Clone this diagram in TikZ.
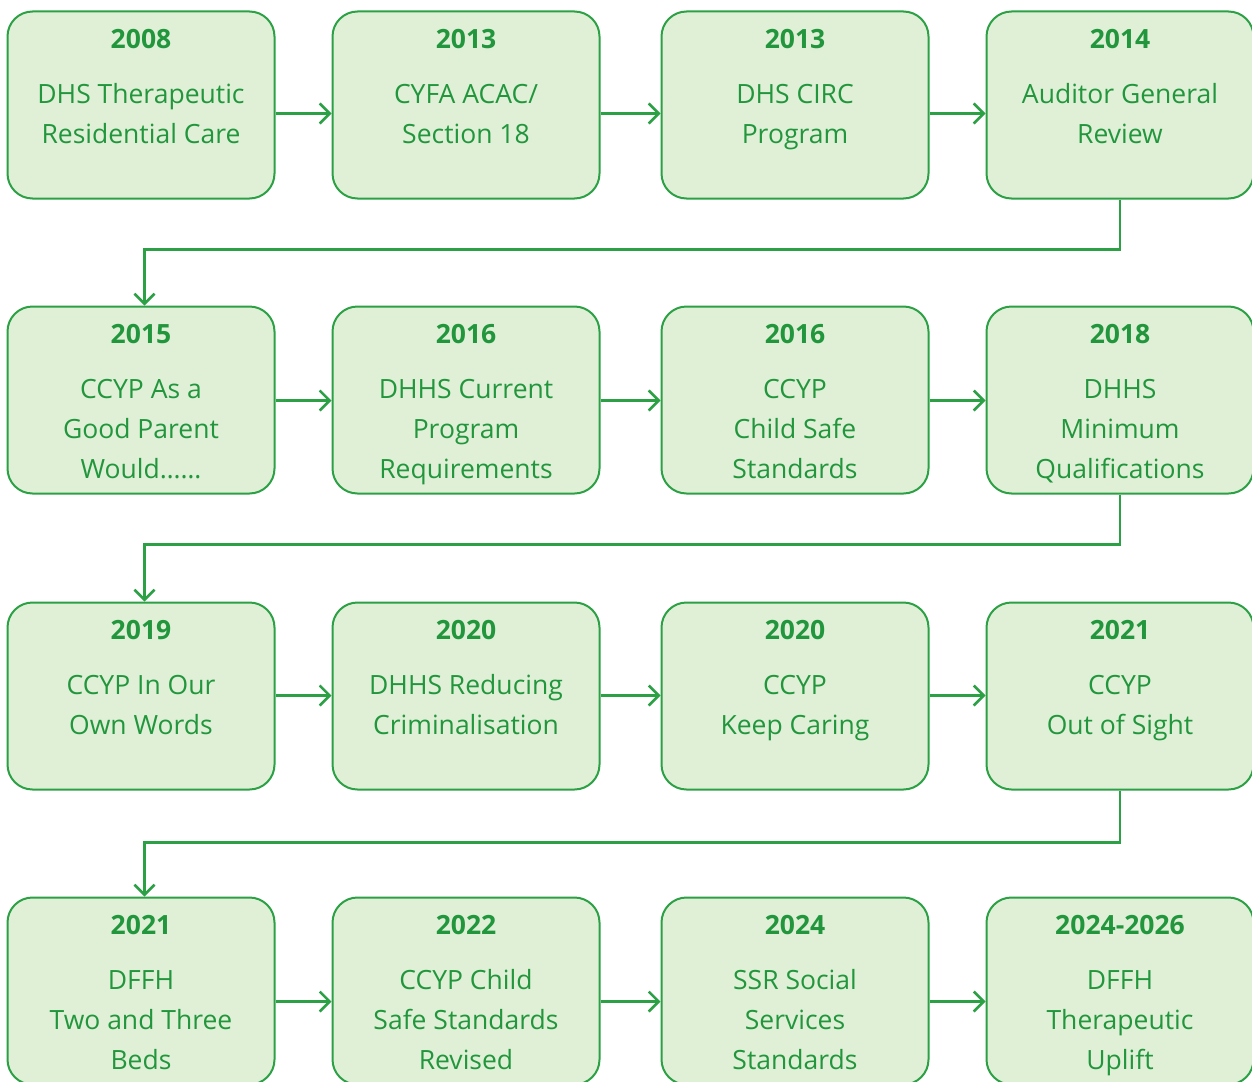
\documentclass[tikz,border=0pt]{standalone}
\usepackage{fontspec}
\setmainfont{Open Sans}
\usetikzlibrary{arrows.meta, positioning}
\usepackage{xcolor}
\definecolor{boxfill}{RGB}{223, 240, 215}
\definecolor{boxline}{RGB}{44, 160, 68}
\definecolor{boxtext}{RGB}{34, 150, 60}
\newcommand{\yr}[1]{\rule{0pt}{22pt}\textbf{#1}\\[15pt]}

\begin{document}
\begin{tikzpicture}[
    x=1pt, y=-1pt,
    % box style
    stepbox/.style={
        rectangle, rounded corners=25pt, draw=boxline, fill=boxfill, line width=2pt,
        minimum width=267pt, minimum height=187pt, anchor=north west, inner sep=0pt
    },
    % text inside each box
    steptext/.style={
        anchor=north, align=center, inner sep=0pt, text=boxtext,
        font=\fontsize{26.5}{40}\selectfont
    },
    % arrow style
    arrow/.style={-{Straight Barb[length=10pt, width=20pt]}, line width=2.5pt, boxline},
]
\useasboundingbox (0.5,0.5) rectangle (1252.5,1081.5);

% ==================== row 1 ====================
\node[stepbox] (b1) at (7,11) {};
\node[stepbox] (b2) at (332,11) {};
\node[stepbox] (b3) at (661,11) {};
\node[stepbox] (b4) at (986,11) {};
\node[steptext, below=15.5pt of b1.north] (t1) {\yr{2008}DHS Therapeutic\\Residential Care};
\node[steptext, below=15.5pt of b2.north] (t2) {\yr{2013}CYFA ACAC/\\Section 18};
\node[steptext, below=15.5pt of b3.north] (t3) {\yr{2013}DHS CIRC\\Program};
\node[steptext, below=15.5pt of b4.north] (t4) {\yr{2014}Auditor General\\Review};

% ==================== row 2 ====================
\node[stepbox] (b5) at (7,306) {};
\node[stepbox] (b6) at (332,306) {};
\node[stepbox] (b7) at (661,306) {};
\node[stepbox] (b8) at (986,306) {};
\node[steptext, below=15.5pt of b5.north] (t5) {\yr{2015}CCYP As a\\Good Parent\\Would……};
\node[steptext, below=15.5pt of b6.north] (t6) {\yr{2016}DHHS Current\\Program\\Requirements};
\node[steptext, below=15.5pt of b7.north] (t7) {\yr{2016}CCYP\\Child Safe\\Standards};
\node[steptext, below=15.5pt of b8.north] (t8) {\yr{2018}DHHS\\Minimum\\Qualifications};

% ==================== row 3 ====================
\node[stepbox] (b9) at (7,602) {};
\node[stepbox] (b10) at (332,602) {};
\node[stepbox] (b11) at (661,602) {};
\node[stepbox] (b12) at (986,602) {};
\node[steptext, below=15.5pt of b9.north] (t9) {\yr{2019}CCYP In Our\\Own Words};
\node[steptext, below=15.5pt of b10.north] (t10) {\yr{2020}DHHS Reducing\\Criminalisation};
\node[steptext, below=15.5pt of b11.north] (t11) {\yr{2020}CCYP\\Keep Caring};
\node[steptext, below=15.5pt of b12.north] (t12) {\yr{2021}CCYP\\Out of Sight};

% ==================== row 4 ====================
\node[stepbox] (b13) at (7,897) {};
\node[stepbox] (b14) at (332,897) {};
\node[stepbox] (b15) at (661,897) {};
\node[stepbox] (b16) at (986,897) {};
\node[steptext, below=15.5pt of b13.north] (t13) {\yr{2021}DFFH\\Two and Three\\Beds};
\node[steptext, below=15.5pt of b14.north] (t14) {\yr{2022}CCYP Child\\Safe Standards\\Revised};
\node[steptext, below=15.5pt of b15.north] (t15) {\yr{2024}SSR Social\\Services\\Standards};
\node[steptext, below=15.5pt of b16.north] (t16) {\yr{2024-2026}DFFH\\Therapeutic\\Uplift};

% ==================== arrows ====================
\draw[arrow] ([yshift=-8.5pt]b1.east) -- ([yshift=-8.5pt]b2.west);
\draw[arrow] ([yshift=-8.5pt]b2.east) -- ([yshift=-8.5pt]b3.west);
\draw[arrow] ([yshift=-8.5pt]b3.east) -- ([yshift=-8.5pt]b4.west);

\draw[arrow] ([yshift=-0.5pt]b5.east) -- ([yshift=-0.5pt]b6.west);
\draw[arrow] ([yshift=-0.5pt]b6.east) -- ([yshift=-0.5pt]b7.west);
\draw[arrow] ([yshift=-0.5pt]b7.east) -- ([yshift=-0.5pt]b8.west);

\draw[arrow] ([yshift=0.5pt]b9.east) -- ([yshift=0.5pt]b10.west);
\draw[arrow] ([yshift=0.5pt]b10.east) -- ([yshift=0.5pt]b11.west);
\draw[arrow] ([yshift=0.5pt]b11.east) -- ([yshift=0.5pt]b12.west);

\draw[arrow] ([yshift=-10.5pt]b13.east) -- ([yshift=-10.5pt]b14.west);
\draw[arrow] ([yshift=-10.5pt]b14.east) -- ([yshift=-10.5pt]b15.west);
\draw[arrow] ([yshift=-10.5pt]b15.east) -- ([yshift=-10.5pt]b16.west);

% row to row
\draw[arrow] (b4.south) -- ++(0,50) -| ([xshift=3.5pt]b5.north);
\draw[arrow] (b8.south) -- ++(0,50) -| ([xshift=3.5pt]b9.north);
\draw[arrow] (b12.south) -- ++(0,52) -| ([xshift=3.5pt]b13.north);

\end{tikzpicture}
\end{document}
